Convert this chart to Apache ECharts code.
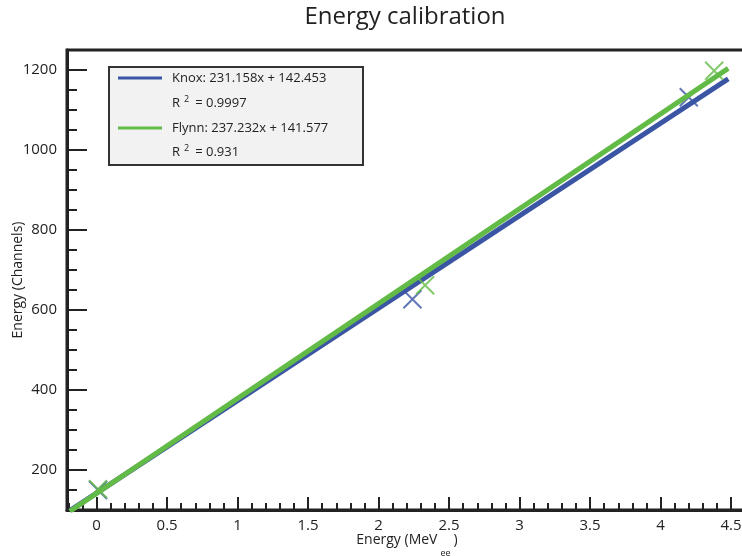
<!DOCTYPE html>
<html><head><meta charset="utf-8">
<script src="https://cdn.jsdelivr.net/npm/echarts@6/dist/echarts.min.js"></script>
<style>html,body{margin:0;padding:0;background:#fff}#c{width:742px;height:556px}</style>
</head><body><div id="c"></div>
<script>
// Data
const knoxFitX = [-0.19, 4.48];
const knoxFitY = [98.5, 1178];
const flynnFitX = [-0.19, 4.48];
const flynnFitY = [96.5, 1204];
const knoxPtsX = [0.01, 2.24, 4.2];
const knoxPtsY = [150, 627, 1132];
const flynnPtsX = [0.01, 2.33, 4.38];
const flynnPtsY = [152, 662, 1198];
const legendLabels = ['Knox: 231.158x + 142.453', 'Flynn: 237.232x + 141.577'];
const legendR2 = ['0.9997', '0.931'];

const blue = '#3b55a5';
const green = '#63bb47';
const font = '"Open Sans", "Noto Sans", sans-serif';
const zip = (a, b) => a.map((v, i) => [v, b[i]]);
const cross = 'path://M0,0L10,10M10,0L0,10';

const chart = echarts.init(document.getElementById('c'));
chart.setOption({
  animation: false,
  title: { text: 'Energy calibration', left: 400, top: 0, textAlign: 'center',
    textStyle: { fontFamily: font, fontSize: 24, fontWeight: 'normal', color: '#222' } },
  grid: { left: 67, right: -5, top: 50, bottom: 46, show: true, borderColor: '#222', borderWidth: 3,
    backgroundColor: 'transparent', containLabel: false, outerBoundsMode: 'none' },
  xAxis: {
    type: 'value', min: -0.21, max: 4.613, splitNumber: 9,
    axisLine: { onZero: false, lineStyle: { color: '#222', width: 3 } },
    axisTick: { inside: true, length: 13, lineStyle: { color: '#222', width: 2 } },
    minorTick: { show: true, splitNumber: 5, length: 7, lineStyle: { color: '#222', width: 2 } },
    splitLine: { show: false },
    axisLabel: { showMinLabel: false, showMaxLabel: false, fontFamily: font, fontSize: 15, color: '#222', margin: 8,
      formatter: v => String(v) },
    name: '{a|Energy (MeV}{s|ee}{a|)}', nameLocation: 'middle', nameGap: 22, nameMoveOverlap: false,
    nameTextStyle: { verticalAlign: 'top', rich: {
      a: { fontFamily: font, fontSize: 14, color: '#222', height: 16, verticalAlign: 'top' },
      s: { fontFamily: font, fontSize: 9, color: '#222', padding: [17, 3, 0, 3], verticalAlign: 'top' } } }
  },
  yAxis: {
    type: 'value', min: 100, max: 1250, splitNumber: 6,
    axisLine: { onZero: false, lineStyle: { color: '#222', width: 3 } },
    axisTick: { inside: true, length: 20, lineStyle: { color: '#222', width: 2 } },
    minorTick: { show: true, splitNumber: 4, length: 10, lineStyle: { color: '#222', width: 2 } },
    splitLine: { show: false },
    axisLabel: { showMinLabel: false, showMaxLabel: false, fontFamily: font, fontSize: 15, color: '#222', margin: 10,
      formatter: v => String(v) },
    name: 'Energy (Channels)', nameLocation: 'middle', nameGap: 42, nameMoveOverlap: false,
    nameTextStyle: { fontFamily: font, fontSize: 14, color: '#222' }
  },
  series: [
    { type: 'line', data: zip(knoxFitX, knoxFitY), symbol: 'none', lineStyle: { color: blue, width: 5 }, z: 2 },
    { type: 'scatter', data: zip(knoxPtsX, knoxPtsY), symbol: cross, symbolSize: 18,
      itemStyle: { color: 'transparent', borderColor: blue, borderWidth: 2 }, z: 2 },
    { type: 'line', data: zip(flynnFitX, flynnFitY), symbol: 'none', lineStyle: { color: green, width: 5 }, z: 3 },
    { type: 'scatter', data: zip(flynnPtsX, flynnPtsY), symbol: cross, symbolSize: 18,
      itemStyle: { color: 'transparent', borderColor: green, borderWidth: 2 }, z: 5 }
  ],
  graphic: [
    { type: 'rect', left: 108, top: 66, shape: { width: 254, height: 98 }, z: 10,
      style: { fill: '#f2f2f2', stroke: '#333', lineWidth: 2 } },
    { type: 'line', shape: { x1: 118, y1: 78, x2: 162, y2: 78 }, z: 11, style: { stroke: blue, lineWidth: 3 } },
    { type: 'line', shape: { x1: 118, y1: 128, x2: 162, y2: 128 }, z: 11, style: { stroke: green, lineWidth: 3 } },
    { type: 'text', x: 172, y: 78, z: 11, style: { text: legendLabels[0], font: '13px ' + font, fill: '#222', verticalAlign: 'middle' } },
    { type: 'text', x: 172, y: 128, z: 11, style: { text: legendLabels[1], font: '13px ' + font, fill: '#222', verticalAlign: 'middle' } },
    { type: 'text', x: 172, y: 103, z: 11, style: { text: '{a|R}{s|2}{a|= ' + legendR2[0] + '}', verticalAlign: 'middle',
      rich: { a: { fontFamily: font, fontSize: 13, fill: '#222' }, s: { fontFamily: font, fontSize: 9, fill: '#222', padding: [0, 6, 8, 4] } } } },
    { type: 'text', x: 172, y: 152, z: 11, style: { text: '{a|R}{s|2}{a|= ' + legendR2[1] + '}', verticalAlign: 'middle',
      rich: { a: { fontFamily: font, fontSize: 13, fill: '#222' }, s: { fontFamily: font, fontSize: 9, fill: '#222', padding: [0, 6, 8, 4] } } } }
  ]
});
</script></body></html>
